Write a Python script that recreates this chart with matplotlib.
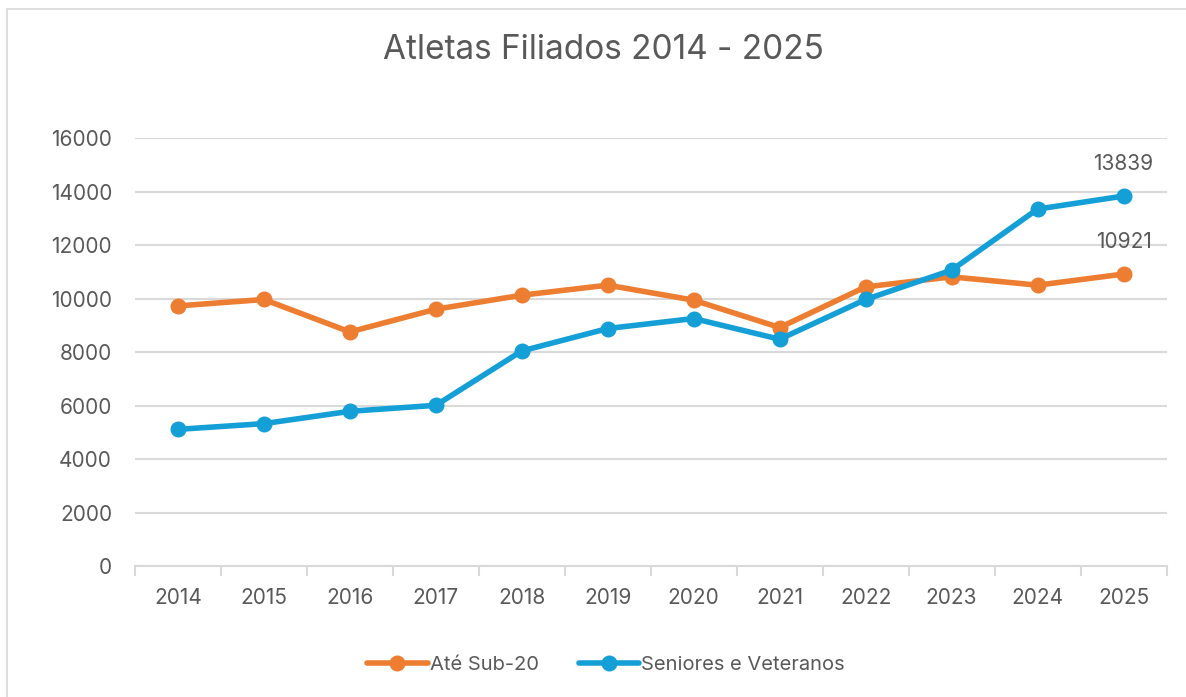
import matplotlib.pyplot as plt
from matplotlib.patches import Rectangle
from matplotlib.ticker import FixedLocator

years = ["2014", "2015", "2016", "2017", "2018", "2019",
         "2020", "2021", "2022", "2023", "2024", "2025"]
ate_sub20 = [9730, 9970, 8757, 9607, 10131, 10506, 9944, 8921, 10442, 10817, 10506, 10921]
seniores = [5112, 5326, 5787, 6011, 8045, 8884, 9258, 8483, 9970, 11067, 13352, 13839]

orange = "#ED7D31"
blue = "#159FD7"
text_col = "#595959"
grid_col = "#D9D9D9"

plt.rcParams["font.family"] = ["Inter", "DejaVu Sans"]

fig = plt.figure(figsize=(11.86, 6.97), dpi=100)
ax = fig.add_axes([135 / 1186, 1 - 566 / 697, (1166.5 - 135) / 1186, (566 - 138.3) / 697])

# chart border
fig.patches.append(Rectangle((7 / 1186, -0.01), 1.1, 1 - 9 / 697 + 0.01,
                             transform=fig.transFigure, fill=False,
                             edgecolor=grid_col, linewidth=1.2))

x = list(range(len(years)))
ax.plot(x, ate_sub20, color=orange, linewidth=4, marker="o", markersize=10.5,
        label="Até Sub-20", solid_capstyle="round", zorder=3)
ax.plot(x, seniores, color=blue, linewidth=4, marker="o", markersize=10.5,
        label="Seniores e Veteranos", solid_capstyle="round", zorder=4)

for series in (seniores, ate_sub20):
    ax.annotate(str(series[-1]), (x[-1], series[-1]), xytext=(0, 23),
                textcoords="offset points", ha="center", va="center",
                fontsize=15, color=text_col)

ax.set_xlim(-0.5, len(years) - 0.5)
ax.set_ylim(0, 16000)
ax.set_yticks(range(0, 16001, 2000))
ax.set_xticks(x)
ax.set_xticklabels(years)
ax.xaxis.set_minor_locator(FixedLocator([i - 0.5 for i in range(len(years) + 1)]))

ax.grid(axis="y", color=grid_col, linewidth=1.5)
ax.set_axisbelow(True)
for side in ["top", "right", "left"]:
    ax.spines[side].set_visible(False)
ax.spines["bottom"].set_color(grid_col)
ax.spines["bottom"].set_linewidth(1.5)

ax.tick_params(axis="y", length=0, pad=16.5, labelsize=15, labelcolor=text_col)
ax.tick_params(axis="x", which="major", length=0, pad=16, labelsize=15, labelcolor=text_col)
ax.tick_params(axis="x", which="minor", length=7, width=1.5, color=grid_col)

fig.text(603 / 1186, 1 - 50 / 697, "Atletas Filiados 2014 - 2025", ha="center",
         va="center", fontsize=24, color=text_col)

fig.legend(loc="center", bbox_to_anchor=(606 / 1186, 1 - 665 / 697), ncol=2,
           frameon=False, fontsize=14.5, labelcolor=text_col, handlelength=3,
           handletextpad=0.1, columnspacing=2.0)

fig.savefig("out.png", dpi=100)
